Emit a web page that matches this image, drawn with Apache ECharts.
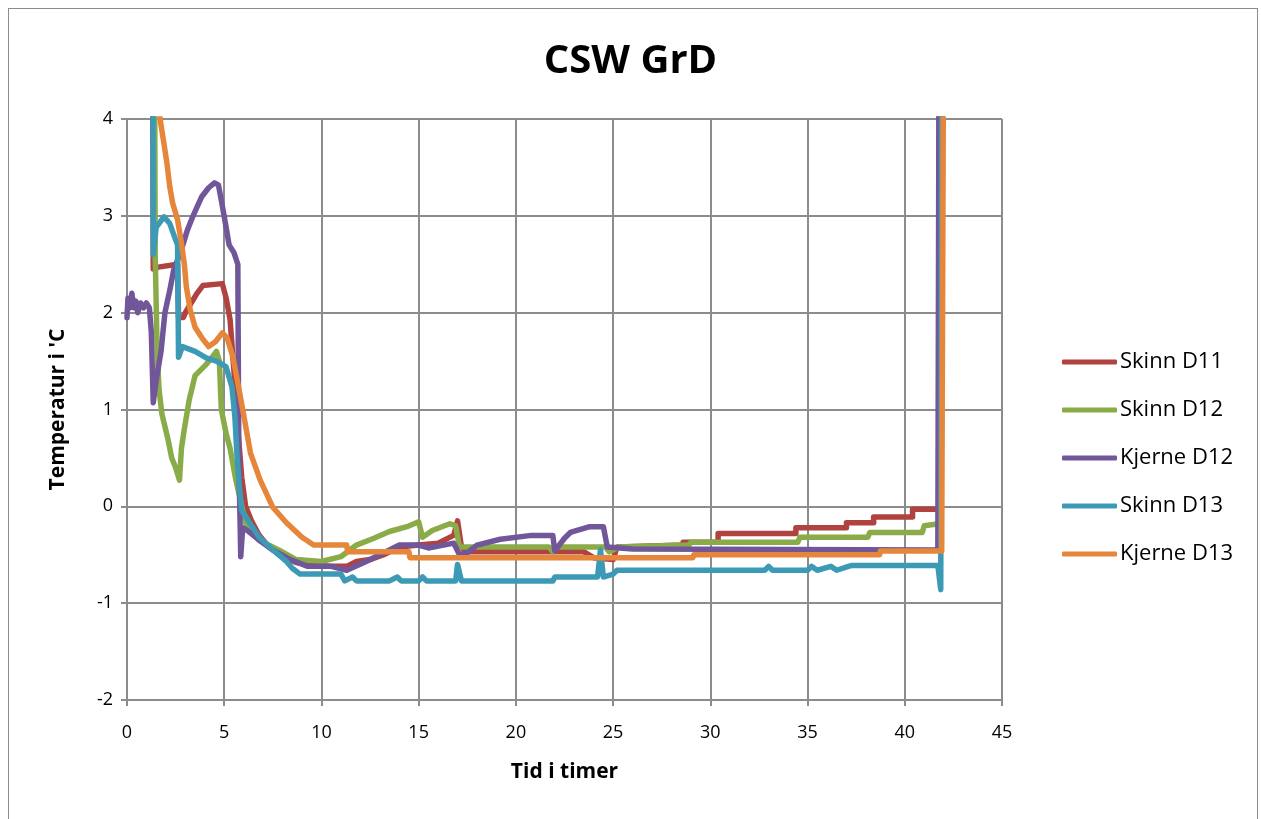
<!DOCTYPE html>
<html>
<head>
<meta charset="utf-8">
<script src="https://cdn.jsdelivr.net/npm/echarts@6/dist/echarts.min.js"></script>
<style>
  html, body { margin: 0; padding: 0; background: #fff; }
  #frame { position: absolute; left: 8px; top: 8px; width: 1250px; height: 830px; border: 1px solid #8c8c8c; box-sizing: border-box; }
  #chart { position: absolute; left: 0; top: 0; width: 1261px; height: 819px; }
</style>
</head>
<body>
<div id="frame"></div>
<div id="chart"></div>
<script>
// Skinn D11
var tidSkinnD11 = [1.3, 1.35, 1.6, 2.6, 2.65, 2.9, 3.0, 3.3, 3.6, 3.9, 4.9, 5.1, 5.3, 5.5, 5.7, 5.9, 6.1, 6.4, 6.8, 7.3, 8.0, 8.7, 9.5, 10.5, 11.3, 11.8, 12.5, 13.2, 14.0, 15.0, 16.0, 16.8, 17.0, 17.2, 17.4, 21.0, 23.5, 24.0, 25.0, 25.2, 28.6, 28.6, 30.4, 30.4, 34.4, 34.4, 37.0, 37.0, 38.4, 38.4, 40.4, 40.4, 41.75, 41.8]
var tempSkinnD11 = [6, 2.45, 2.47, 2.5, 1.95, 1.95, 2.0, 2.1, 2.2, 2.28, 2.3, 2.15, 1.93, 1.4, 0.8, 0.3, 0.0, -0.15, -0.3, -0.42, -0.52, -0.58, -0.6, -0.62, -0.62, -0.57, -0.55, -0.5, -0.42, -0.4, -0.38, -0.3, -0.15, -0.42, -0.47, -0.47, -0.47, -0.53, -0.55, -0.42, -0.4, -0.37, -0.37, -0.28, -0.28, -0.22, -0.22, -0.17, -0.17, -0.11, -0.11, -0.03, -0.03, 8]

// Skinn D12
var tidSkinnD12 = [1.4, 1.45, 1.55, 1.65, 1.8, 2.1, 2.3, 2.5, 2.7, 2.8, 2.95, 3.2, 3.5, 4.0, 4.3, 4.6, 4.75, 4.85, 5.1, 5.3, 5.6, 6.1, 6.8, 7.8, 8.7, 10.0, 11.0, 11.8, 12.7, 13.5, 14.4, 15.0, 15.2, 15.7, 16.6, 16.9, 17.1, 21.7, 21.9, 22.1, 24.6, 24.8, 25.3, 28.9, 29.0, 34.5, 34.6, 38.1, 38.2, 40.9, 41.0, 41.75, 41.85]
var tempSkinnD12 = [6, 2.6, 1.6, 1.2, 0.95, 0.7, 0.5, 0.4, 0.27, 0.6, 0.8, 1.1, 1.35, 1.45, 1.52, 1.6, 1.5, 1.0, 0.75, 0.6, 0.27, -0.17, -0.35, -0.45, -0.55, -0.57, -0.52, -0.4, -0.33, -0.26, -0.21, -0.16, -0.32, -0.25, -0.18, -0.2, -0.42, -0.42, -0.47, -0.42, -0.42, -0.47, -0.42, -0.4, -0.37, -0.37, -0.32, -0.32, -0.27, -0.27, -0.2, -0.18, 8]

// Kjerne D12
var tidKjerneD12 = [0, 0.05, 0.15, 0.25, 0.35, 0.45, 0.55, 0.7, 0.85, 1.0, 1.15, 1.25, 1.35, 1.5, 1.75, 1.95, 2.2, 2.4, 2.8, 3.1, 3.4, 3.6, 3.85, 4.2, 4.5, 4.7, 4.85, 5.1, 5.25, 5.5, 5.7, 5.75, 5.85, 5.95, 6.2, 6.8, 7.5, 8.4, 9.3, 10.5, 11.3, 12.3, 13.0, 13.5, 14.0, 15.0, 15.5, 16.8, 17.1, 17.5, 18.0, 19.2, 20.8, 21.9, 22.0, 22.5, 22.8, 23.8, 24.5, 24.7, 26.0, 41.7, 41.8]
var tempKjerneD12 = [1.95, 2.15, 2.05, 2.2, 2.05, 2.12, 2.0, 2.1, 2.05, 2.1, 2.05, 1.8, 1.07, 1.3, 1.6, 2.0, 2.23, 2.44, 2.65, 2.85, 3.0, 3.09, 3.2, 3.29, 3.34, 3.32, 3.16, 2.88, 2.7, 2.62, 2.5, 0.5, -0.52, -0.22, -0.25, -0.35, -0.45, -0.55, -0.62, -0.62, -0.66, -0.57, -0.5, -0.45, -0.4, -0.4, -0.43, -0.38, -0.5, -0.48, -0.4, -0.34, -0.3, -0.3, -0.46, -0.33, -0.27, -0.21, -0.21, -0.42, -0.44, -0.45, 8]

// Skinn D13
var tidSkinnD13 = [1.3, 1.35, 1.5, 1.9, 2.2, 2.45, 2.6, 2.65, 2.85, 3.5, 4.1, 4.6, 5.1, 5.4, 5.55, 5.65, 5.75, 5.9, 6.3, 6.8, 7.5, 8.2, 8.5, 8.9, 11.0, 11.2, 11.6, 11.8, 13.5, 13.9, 14.1, 15.0, 15.2, 15.4, 16.9, 17.0, 17.2, 21.9, 22.0, 24.2, 24.35, 24.5, 25.0, 25.2, 32.8, 33.0, 33.2, 35.0, 35.2, 35.5, 36.2, 36.5, 37.1, 37.3, 41.7, 41.85, 41.95]
var tempSkinnD13 = [8, 2.6, 2.88, 2.99, 2.92, 2.78, 2.7, 1.54, 1.65, 1.6, 1.53, 1.5, 1.44, 1.23, 0.92, 0.55, 0.27, -0.04, -0.17, -0.32, -0.45, -0.57, -0.64, -0.7, -0.7, -0.77, -0.73, -0.77, -0.77, -0.73, -0.77, -0.77, -0.73, -0.77, -0.77, -0.6, -0.77, -0.77, -0.73, -0.73, -0.45, -0.73, -0.7, -0.66, -0.66, -0.62, -0.66, -0.66, -0.62, -0.66, -0.62, -0.66, -0.62, -0.61, -0.61, -0.86, 8]

// Kjerne D13
var tidKjerneD13 = [1.6, 1.7, 1.85, 2.05, 2.2, 2.35, 2.6, 2.8, 2.95, 3.05, 3.25, 3.5, 3.85, 4.2, 4.55, 4.9, 5.15, 5.45, 5.7, 5.95, 6.2, 6.35, 6.85, 7.5, 8.2, 9.0, 9.6, 11.3, 11.35, 14.5, 14.55, 29.1, 29.15, 38.7, 38.75, 41.9, 42.05]
var tempKjerneD13 = [6, 4.0, 3.81, 3.55, 3.3, 3.13, 2.96, 2.72, 2.5, 2.27, 2.03, 1.85, 1.74, 1.65, 1.7, 1.79, 1.74, 1.54, 1.27, 1.0, 0.72, 0.55, 0.27, -0.01, -0.17, -0.32, -0.4, -0.4, -0.47, -0.47, -0.53, -0.53, -0.5, -0.5, -0.46, -0.46, 8]

var seriesNames = ['Skinn D11', 'Skinn D12', 'Kjerne D12', 'Skinn D13', 'Kjerne D13']
var seriesColors = ['#b0423f', '#8aac48', '#71569a', '#3c9ab6', '#e5863a']
var seriesTid = [tidSkinnD11, tidSkinnD12, tidKjerneD12, tidSkinnD13, tidKjerneD13]
var seriesTemp = [tempSkinnD11, tempSkinnD12, tempKjerneD12, tempSkinnD13, tempKjerneD13]

var chart = echarts.init(document.getElementById('chart'))
var fontFamily = '"Open Sans", sans-serif'

var series = seriesNames.map(function (name, i) {
  return {
    name: name,
    type: 'line',
    showSymbol: false,
    symbol: 'none',
    clip: true,
    lineStyle: { width: 5.5, color: seriesColors[i], cap: 'round', join: 'round' },
    itemStyle: { color: seriesColors[i] },
    data: seriesTid[i].map(function (t, k) { return [t, seriesTemp[i][k]] })
  }
})

var options = {
  animation: false,
  title: {
    text: 'CSW GrD',
    left: 'center',
    top: 37,
    textStyle: { fontFamily: fontFamily, fontSize: 40, fontWeight: 'bold', color: '#000' }
  },
  legend: {
    orient: 'vertical',
    left: 1057,
    top: 346,
    itemWidth: 55,
    itemHeight: 5,
    itemGap: 26,
    icon: 'roundRect',
    textStyle: { fontFamily: fontFamily, fontSize: 22, color: '#000', padding: [0, 0, 0, -2] },
    data: seriesNames
  },
  grid: { left: 127, top: 119, right: 259, bottom: 119, containLabel: false },
  xAxis: {
    type: 'value',
    min: 0,
    max: 45,
    interval: 5,
    name: 'Tid i timer',
    nameLocation: 'middle',
    nameGap: 62,
    nameTextStyle: { fontFamily: fontFamily, fontSize: 21, fontWeight: 'bold', color: '#000' },
    axisLine: { show: true, onZero: false, lineStyle: { color: '#8c8c8c', width: 2 } },
    axisTick: { show: true, length: 6, lineStyle: { color: '#8c8c8c', width: 2 } },
    axisLabel: { margin: 24, fontFamily: fontFamily, fontSize: 18, color: '#000' },
    splitLine: { show: true, lineStyle: { color: '#8c8c8c', width: 2 } }
  },
  yAxis: {
    type: 'value',
    min: -2,
    max: 4,
    interval: 1,
    name: "Temperatur i 'C",
    nameLocation: 'middle',
    nameGap: 58,
    nameTextStyle: { fontFamily: fontFamily, fontSize: 21, fontWeight: 'bold', color: '#000' },
    axisLine: { show: true, lineStyle: { color: '#8c8c8c', width: 2 } },
    axisTick: { show: true, length: 6, lineStyle: { color: '#8c8c8c', width: 2 } },
    axisLabel: { margin: 14, fontFamily: fontFamily, fontSize: 18, color: '#000' },
    splitLine: { show: true, lineStyle: { color: '#8c8c8c', width: 2 } }
  },
  series: series
}

chart.setOption(options)
</script>
</body>
</html>
